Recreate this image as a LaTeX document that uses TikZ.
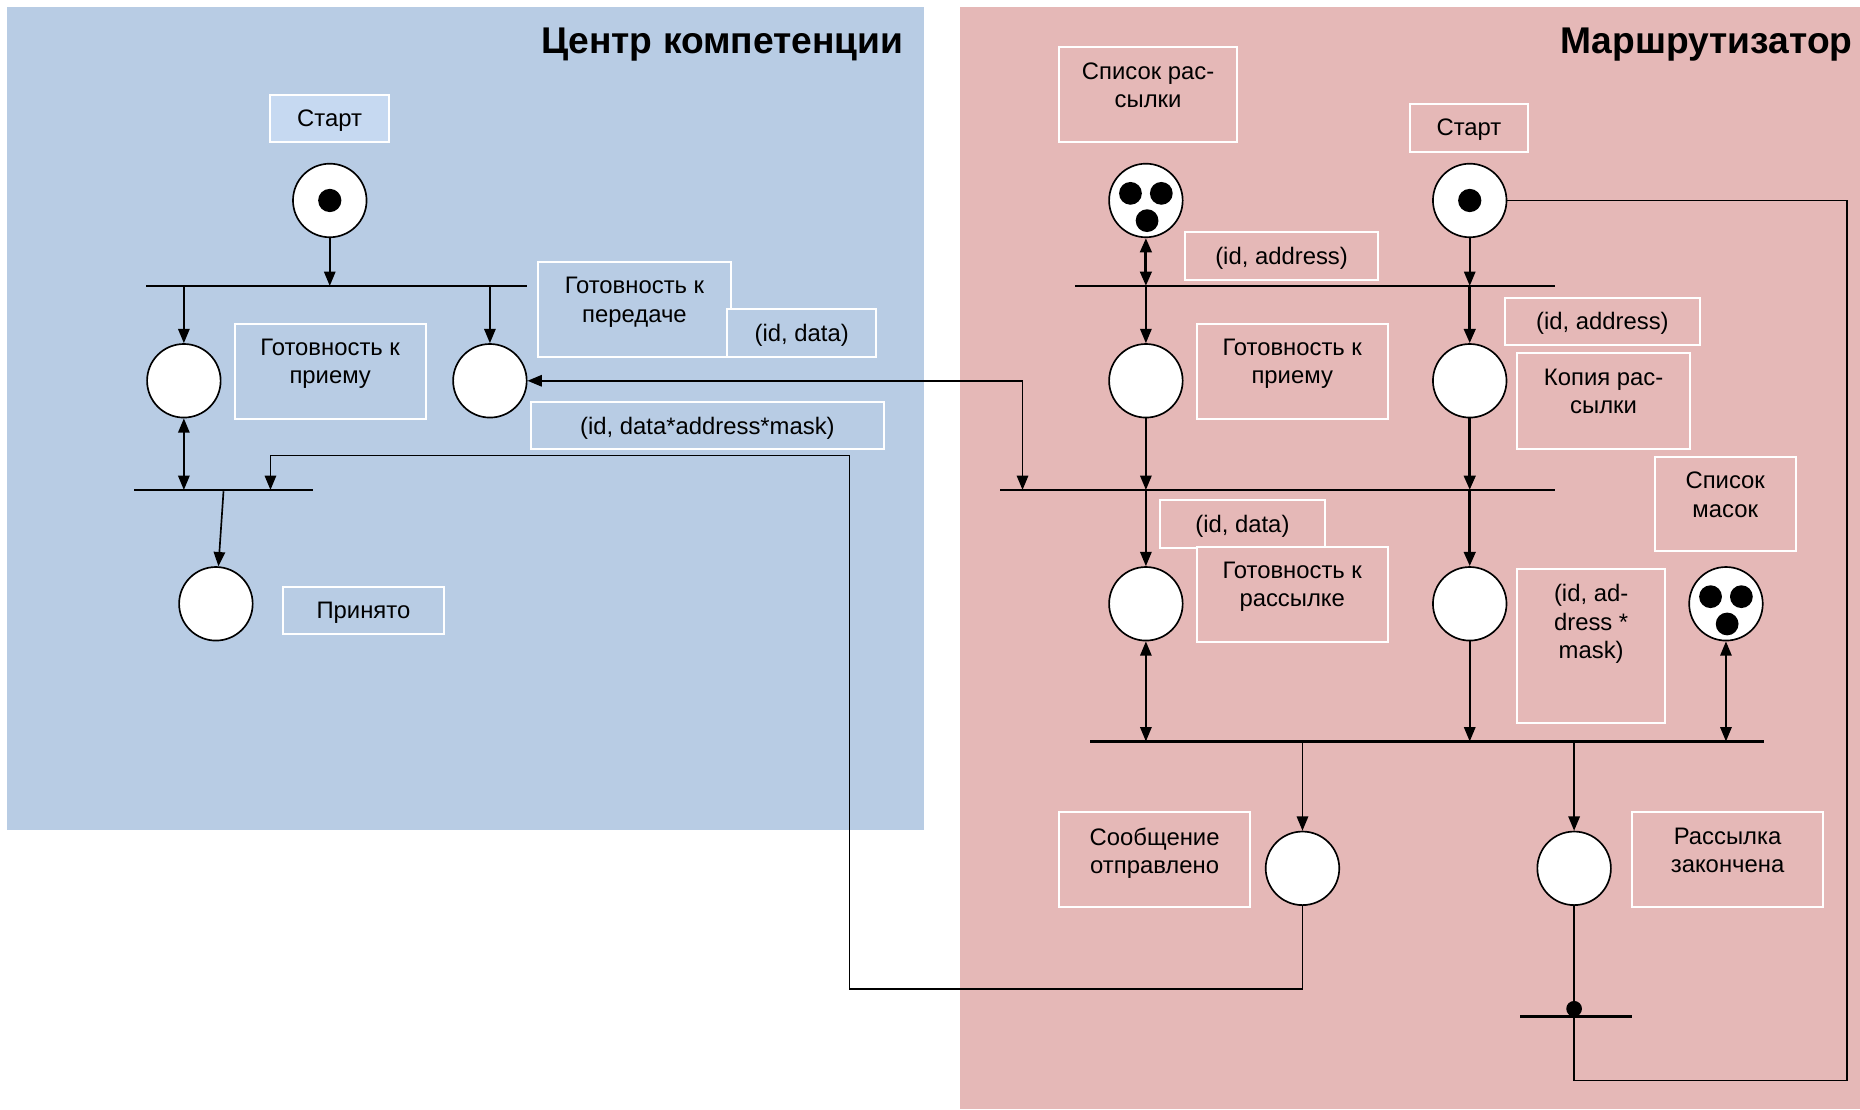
\documentclass[tikz,border=0pt]{standalone}
\usepackage{fontspec}
\setmainfont{Liberation Sans}
\usetikzlibrary{arrows.meta,positioning}

\definecolor{ccblue}{HTML}{B8CCE4}
\definecolor{ccstart}{HTML}{C6D9F1}
\definecolor{rtpink}{HTML}{E5B8B7}

\begin{document}
\begin{tikzpicture}[x=0.025cm,y=-0.025cm,
    plc/.style={circle,draw,fill=white,line width=1pt,minimum size=1.55cm,inner sep=0pt},
    trans/.style={fill=black,minimum height=1.6pt,inner sep=0pt,outer sep=0pt},
    lbl/.style={draw=white,line width=1.2pt,inner sep=0pt,anchor=north west},
    txt/.style={align=center,inner sep=0pt,font=\fontsize{14.3}{17}\selectfont},
    ttl/.style={anchor=base east,inner sep=0pt,font=\fontsize{22.3}{26}\selectfont\bfseries},
    flow/.style={line width=1pt,-{Triangle[length=0.3cm,width=0.24cm]}},
    biflow/.style={line width=1pt,{Triangle[length=0.3cm,width=0.24cm]}-{Triangle[length=0.3cm,width=0.24cm]}},
    dotflow/.style={line width=1pt,-{Circle[length=0.33cm]}},
    heavy/.style={line width=1.8pt}
  ]
  \useasboundingbox (0,0) rectangle (1568,935);

  % background areas
  \fill[ccblue] (6,6) rectangle (779,700);
  \fill[rtpink] (809,6) rectangle (1568,935);

  \node[ttl] (ccTitle) at (762,45) {Центр компетенции};
  \node[ttl] (rtTitle) at (1562,45) {Маршрутизатор};

  % labels, left side
  \node[lbl,fill=ccstart,minimum width=2.5cm,minimum height=1cm] (ccStartL) at (227,79) {};
  \node[txt,below=0.33cm of ccStartL.north] {Старт};
  \node[lbl,fill=ccblue,minimum width=4.025cm,minimum height=2cm] (ccRecvL) at (197,272) {};
  \node[txt,below=0.34cm of ccRecvL.north] {Готовность к\\приему};
  \node[lbl,fill=ccblue,minimum width=4.05cm,minimum height=2cm] (ccSendL) at (453,220) {};
  \node[txt,below=0.34cm of ccSendL.north] {Готовность к\\передаче};
  \node[lbl,fill=ccblue,minimum width=3.15cm,minimum height=1cm] (ccSendD) at (612,260) {};
  \node[txt,below=0.33cm of ccSendD.north] {(id, data)};
  \node[lbl,fill=ccblue,minimum width=7.425cm,minimum height=1cm] (ccSendM) at (447,338) {};
  \node[txt,below=0.33cm of ccSendM.north] {(id, data*address*mask)};
  \node[lbl,fill=ccblue,minimum width=3.375cm,minimum height=1cm] (ccDoneL) at (238,494) {};
  \node[txt,below=0.33cm of ccDoneL.north] {Принято};

  % labels, right side
  \node[lbl,fill=rtpink,minimum width=3.75cm,minimum height=2cm] (rtListL) at (892,39) {};
  \node[txt,below=0.34cm of rtListL.north] {Список рас-\\сылки};
  \node[lbl,fill=rtpink,minimum width=2.475cm,minimum height=1cm] (rtStartL) at (1188,87) {};
  \node[txt,below=0.33cm of rtStartL.north] {Старт};
  \node[lbl,fill=rtpink,minimum width=4.075cm,minimum height=1cm] (rtListD) at (998,195) {};
  \node[txt,below=0.33cm of rtListD.north] {(id, address)};
  \node[lbl,fill=rtpink,minimum width=4.1cm,minimum height=1cm] (rtCopyD) at (1268,250) {};
  \node[txt,below=0.33cm of rtCopyD.north] {(id, address)};
  \node[lbl,fill=rtpink,minimum width=4.025cm,minimum height=2cm] (rtRecvL) at (1008,272) {};
  \node[txt,below=0.34cm of rtRecvL.north] {Готовность к\\приему};
  \node[lbl,fill=rtpink,minimum width=3.65cm,minimum height=2.025cm] (rtCopyL) at (1278,297) {};
  \node[txt,below=0.34cm of rtCopyL.north] {Копия рас-\\сылки};
  \node[lbl,fill=rtpink,minimum width=2.975cm,minimum height=2cm] (rtMasksL) at (1394,384) {};
  \node[txt,below=0.34cm of rtMasksL.north] {Список\\масок};
  \node[lbl,fill=rtpink,minimum width=3.475cm,minimum height=1cm] (rtReadyD) at (977,421) {};
  \node[txt,below=0.33cm of rtReadyD.north] {(id, data)};
  \node[lbl,fill=rtpink,minimum width=4.025cm,minimum height=2cm] (rtReadyL) at (1008,460) {};
  \node[txt,below=0.34cm of rtReadyL.north] {Готовность к\\рассылке};
  \node[lbl,fill=rtpink,minimum width=3.125cm,minimum height=3.25cm] (rtAddrL) at (1278,479) {};
  \node[txt,below=0.34cm of rtAddrL.north] {(id, ad-\\dress *\\mask)};
  \node[lbl,fill=rtpink,minimum width=4.025cm,minimum height=2cm] (rtSentL) at (892,684) {};
  \node[txt,below=0.34cm of rtSentL.north] {Сообщение\\отправлено};
  \node[lbl,fill=rtpink,minimum width=4.025cm,minimum height=2cm] (rtDoneL) at (1375,684) {};
  \node[txt,below=0.34cm of rtDoneL.north] {Рассылка\\закончена};

  % places
  \node[plc] (ccStart) at (278,169) {};
  \node[plc] (ccRecv) at (155,321) {};
  \node[plc] (ccSend) at (413,321) {};
  \node[plc] (ccDone) at (182,509) {};
  \node[plc] (rtList) at (966,169) {};
  \node[plc] (rtStart) at (1239,169) {};
  \node[plc] (rtRecv) at (966,321) {};
  \node[plc] (rtCopy) at (1239,321) {};
  \node[plc] (rtReady) at (966,509) {};
  \node[plc] (rtAddr) at (1239,509) {};
  \node[plc] (rtMasks) at (1455,509) {};
  \node[plc] (rtSent) at (1098,732) {};
  \node[plc] (rtDone) at (1327,732) {};

  % tokens
  \fill (ccStart) circle (0.245cm);
  \fill (rtStart) circle (0.245cm);
  \foreach \p in {rtList,rtMasks}
    \foreach \dx/\dy in {-13/-6,13/-6,1/17}
      \fill (\p) ++(\dx,\dy) circle (0.24cm);

  % transitions
  \node[trans,minimum width=8.025cm] (t1) at (283.5,241) {};
  \node[trans,minimum width=3.775cm] (t2) at (188.5,413) {};
  \node[trans,minimum width=10.125cm] (t3) at (1108.5,241) {};
  \node[trans,minimum width=11.7cm] (t4) at (1077,413) {};
  \node[trans,minimum width=14.2cm] (t5) at (1203,625) {};
  \node[trans,minimum width=2.375cm] (t6) at (1328.5,857) {};

  % arcs, left side
  \draw[flow] (ccStart) -- (ccStart |- t1);
  \draw[flow] (t1 -| ccRecv) -- (ccRecv);
  \draw[flow] (t1 -| ccSend) -- (ccSend);
  \draw[biflow] (ccRecv) -- (ccRecv |- t2);
  \draw[flow] (t2) -- (ccDone);

  % arcs between the two parts
  \coordinate (joinA) at (862,413);
  \draw[biflow] (ccSend) -| (joinA);
  \coordinate (backA) at (716,834);
  \coordinate (backB) at (228,384);
  \draw[flow] (rtSent) |- (backA) |- (backB) -- (backB |- t2);

  % arcs, right side
  \draw[biflow,heavy] (rtList) -- (rtList |- t3);
  \draw[flow] (rtStart) -- (rtStart |- t3);
  \draw[flow] (t3 -| rtRecv) -- (rtRecv);
  \draw[flow,heavy] (t3 -| rtCopy) -- (rtCopy);
  \draw[flow] (rtRecv) -- (rtRecv |- t4);
  \draw[flow,heavy] (rtCopy) -- (rtCopy |- t4);
  \draw[flow] (t4 -| rtReady) -- (rtReady);
  \draw[flow,heavy] (t4 -| rtAddr) -- (rtAddr);
  \draw[biflow] (rtReady) -- (rtReady |- t5);
  \draw[flow] (rtAddr) -- (rtAddr |- t5);
  \draw[biflow] (rtMasks) -- (rtMasks |- t5);
  \draw[flow] (t5 -| rtSent) -- (rtSent);
  \draw[flow] (t5 -| rtDone) -- (rtDone);
  \draw[dotflow] (rtDone) -- (rtDone |- t6);
  \coordinate (loopA) at (1557,911);
  \draw[line width=1pt] (t6 -| rtDone) |- (loopA) |- (rtStart);
\end{tikzpicture}
\end{document}
